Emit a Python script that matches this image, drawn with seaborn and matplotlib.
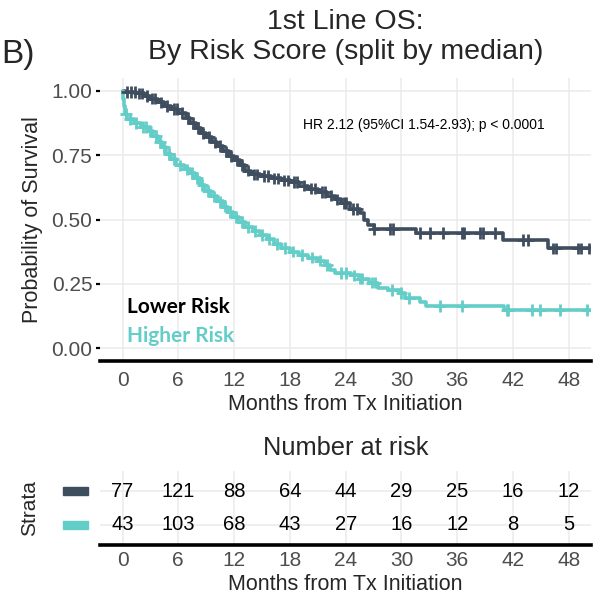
import numpy as np
import pandas as pd
import matplotlib
matplotlib.use("Agg")
import matplotlib.pyplot as plt
import matplotlib.transforms as mtransforms
import seaborn as sns
from matplotlib.patches import Rectangle

# ---------------- data ----------------
groups = ["Lower Risk", "Higher Risk"]
colors = ["#3F4E5F", "#63CDC7"]

lower_time = [0, 0.3, 1.5, 2.3, 3.0, 3.8, 4.5, 5.2, 6.0, 6.8, 7.3, 7.9, 8.4, 9.0, 9.6,
              10.2, 10.8, 11.4, 12.0, 12.6, 13.2, 13.8, 14.8, 16.0, 17.0, 18.0, 19.0,
              20.0, 21.0, 22.0, 22.8, 23.5, 24.5, 25.5, 26.0, 26.4, 27.0, 31.6, 40.9,
              45.8, 50.4]
lower_surv = [1.0, 0.995, 0.99, 0.98, 0.97, 0.955, 0.94, 0.93, 0.915, 0.895, 0.875, 0.855,
              0.835, 0.82, 0.80, 0.785, 0.765, 0.745, 0.73, 0.71, 0.69, 0.675, 0.67, 0.66,
              0.652, 0.645, 0.632, 0.62, 0.607, 0.593, 0.578, 0.563, 0.54, 0.525, 0.50,
              0.478, 0.463, 0.447, 0.42, 0.388, 0.388]
lower_censor = [0.5, 0.9, 1.3, 1.8, 2.1, 2.6, 3.2, 3.5, 4.1, 4.8, 5.5, 5.9, 6.4, 7.0, 7.6,
                8.1, 8.7, 9.3, 9.9, 10.5, 11.1, 11.7, 12.3, 12.9, 13.5, 14.1, 14.5, 15.2,
                15.6, 16.3, 16.7, 17.4, 17.8, 18.4, 18.8, 19.5, 20.3, 20.7, 21.4, 21.8,
                22.4, 23.1, 23.8, 24.0, 24.8, 25.2, 27.0, 28.8, 29.1, 32.0, 33.1, 34.5,
                36.5, 36.7, 38.4, 38.8, 40.1, 43.1, 43.6, 46.3, 46.6, 49.0, 49.3, 50.2]

higher_time = [0, 0.1, 0.2, 0.3, 0.5, 1.2, 2.0, 2.8, 3.3, 3.8, 4.2, 4.7, 5.2, 5.8, 6.6,
               7.3, 7.8, 8.3, 8.9, 9.5, 10.2, 10.8, 11.3, 11.9, 12.5, 13.2, 14.0, 14.8,
               15.5, 16.3, 17.0, 18.0, 19.0, 20.0, 21.0, 21.8, 22.3, 22.8, 24.6, 25.4,
               26.5, 27.5, 28.5, 29.8, 30.4, 32.0, 32.6, 41.0, 50.4]
higher_surv = [1.0, 0.97, 0.94, 0.91, 0.89, 0.875, 0.86, 0.845, 0.825, 0.80, 0.78, 0.755,
               0.735, 0.71, 0.695, 0.68, 0.66, 0.635, 0.61, 0.59, 0.57, 0.55, 0.53, 0.51,
               0.49, 0.47, 0.455, 0.44, 0.425, 0.405, 0.39, 0.375, 0.362, 0.352, 0.34,
               0.322, 0.305, 0.292, 0.283, 0.27, 0.255, 0.235, 0.225, 0.215, 0.195, 0.18,
               0.164, 0.148, 0.148]
higher_censor = [0.4, 0.8, 1.5, 2.2, 2.5, 3.0, 3.6, 4.0, 4.5, 5.0, 5.5, 6.2, 6.9, 7.5, 8.0,
                 8.6, 9.2, 9.8, 10.5, 11.0, 11.6, 12.2, 12.8, 13.5, 14.3, 15.0, 15.8, 16.6,
                 17.5, 18.3, 19.3, 20.4, 21.2, 22.0, 23.5, 24.0, 24.9, 25.5, 25.8, 26.8,
                 27.2, 29.0, 30.0, 30.8, 34.1, 36.5, 41.3, 41.5, 44.0, 44.9, 47.0, 50.0]

risk_times = [0, 6, 12, 18, 24, 30, 36, 42, 48]
lower_at_risk = [77, 121, 88, 64, 44, 29, 25, 16, 12]
higher_at_risk = [43, 103, 68, 43, 27, 16, 12, 8, 5]

title_line1 = "1st Line OS:"
title_line2 = "By Risk Score (split by median)"
hr_text = "HR 2.12 (95%CI 1.54-2.93); p < 0.0001"

# ---------------- build tables ----------------
curve_df = pd.concat([
    pd.DataFrame({"time": lower_time, "surv": lower_surv, "group": groups[0]}),
    pd.DataFrame({"time": higher_time, "surv": higher_surv, "group": groups[1]}),
], ignore_index=True)


def surv_at(times, tt, ss):
    idx = np.searchsorted(np.asarray(tt), np.asarray(times), side="right") - 1
    return np.asarray(ss)[idx]


cens_df = pd.concat([
    pd.DataFrame({"time": lower_censor,
                  "surv": surv_at(lower_censor, lower_time, lower_surv),
                  "group": groups[0]}),
    pd.DataFrame({"time": higher_censor,
                  "surv": surv_at(higher_censor, higher_time, higher_surv),
                  "group": groups[1]}),
], ignore_index=True)

# ---------------- figure ----------------
sns.set_theme(style="white")
plt.rcParams["font.family"] = ["Liberation Sans", "DejaVu Sans"]

W, H = 593, 597
fig = plt.figure(figsize=(W / 100, H / 100), dpi=100)
fig.patch.set_facecolor("white")


def fx(px):
    return px / W


def fy(py):
    return 1 - py / H


left, right = 100, 591
ax = fig.add_axes([fx(left), fy(361), fx(right) - fx(left), fy(78) - fy(361)])
tab = fig.add_axes([fx(left), fy(545), fx(right) - fx(left), fy(471) - fy(545)])

palette = dict(zip(groups, colors))
grid_c = "#EBEBEB"
tick_c = "#4D4D4D"

# main KM panel
sns.lineplot(data=curve_df, x="time", y="surv", hue="group", palette=palette,
             drawstyle="steps-post", estimator=None, sort=False, linewidth=2.6,
             legend=False, ax=ax, zorder=3)
sns.scatterplot(data=cens_df, x="time", y="surv", hue="group", palette=palette,
                marker="+", s=70, linewidth=2.0, legend=False, ax=ax, zorder=4)

ax.set_xlim(-2.42, 50.38)
ax.set_ylim(-0.05, 1.05)
ax.set_xticks(risk_times)
ax.set_yticks([0, 0.25, 0.5, 0.75, 1.0])
ax.set_yticklabels(["0.00", "0.25", "0.50", "0.75", "1.00"])
ax.grid(True, color=grid_c, linewidth=1.1)
ax.set_axisbelow(True)
for s in ["top", "right", "left"]:
    ax.spines[s].set_visible(False)
ax.spines["bottom"].set_color("black")
ax.spines["bottom"].set_linewidth(2.6)
ax.tick_params(axis="y", length=3, width=1.6, color="black", pad=2.5,
               labelsize=15, labelcolor=tick_c, left=True)
ax.tick_params(axis="x", length=0, pad=7, labelsize=15, labelcolor=tick_c)
ax.set_xlabel("")
ax.set_ylabel("")

ax.text(19.4, 0.867, hr_text, fontsize=10, ha="left", va="center", color="black")
ax.text(0.48, 0.159, "Lower Risk", fontsize=15, fontweight="bold", family="Lato",
        color="black", ha="left", va="center")
ax.text(0.48, 0.047, "Higher Risk", fontsize=15, fontweight="bold", family="Lato",
        color=colors[1], ha="left", va="center")

# risk table
tab.set_xlim(-2.42, 50.38)
tab.set_ylim(0.4, 2.6)
tab.set_xticks(risk_times)
tab.set_yticks([1, 2])
tab.set_yticklabels(["", ""])
tab.grid(True, color=grid_c, linewidth=1.1)
tab.set_axisbelow(True)
for s in ["top", "right", "left"]:
    tab.spines[s].set_visible(False)
tab.spines["bottom"].set_color("black")
tab.spines["bottom"].set_linewidth(2.6)
tab.tick_params(axis="x", length=0, pad=4.5, labelsize=15, labelcolor=tick_c)
tab.tick_params(axis="y", length=0)
tab.set_xlabel("")
tab.set_ylabel("")
for t, n in zip(risk_times, lower_at_risk):
    tab.text(t, 2, str(n), fontsize=14.5, ha="center", va="center", color="black")
for t, n in zip(risk_times, higher_at_risk):
    tab.text(t, 1, str(n), fontsize=14.5, ha="center", va="center", color="black")

# strata colour keys
trans = mtransforms.blended_transform_factory(fig.transFigure, tab.transData)
for yv, c in zip([2, 1], colors):
    tab.add_patch(Rectangle((fx(63), yv - 0.11), fx(88) - fx(63), 0.22,
                            transform=trans, color=c, clip_on=False))

# texts
cx = fx((left + right) / 2)
fig.text(cx, fy(22), title_line1, fontsize=20.5, ha="center", va="center")
fig.text(cx, fy(52), title_line2, fontsize=20.5, ha="center", va="center")
fig.text(fx(1), fy(55), "B)", fontsize=24, ha="left", va="center")
fig.text(fx(33), fy(219.5), "Probability of Survival", fontsize=15.5,
         rotation=90, ha="center", va="center")
fig.text(cx, fy(405), "Months from Tx Initiation", fontsize=15.5, ha="center", va="center")
fig.text(cx, fy(448), "Number at risk", fontsize=18.3, ha="center", va="center")
fig.text(fx(30), fy(508), "Strata", fontsize=15, rotation=90, ha="center", va="center")
fig.text(cx, fy(585), "Months from Tx Initiation", fontsize=15.5, ha="center", va="center")

fig.savefig("out.png", dpi=100, facecolor="white")
